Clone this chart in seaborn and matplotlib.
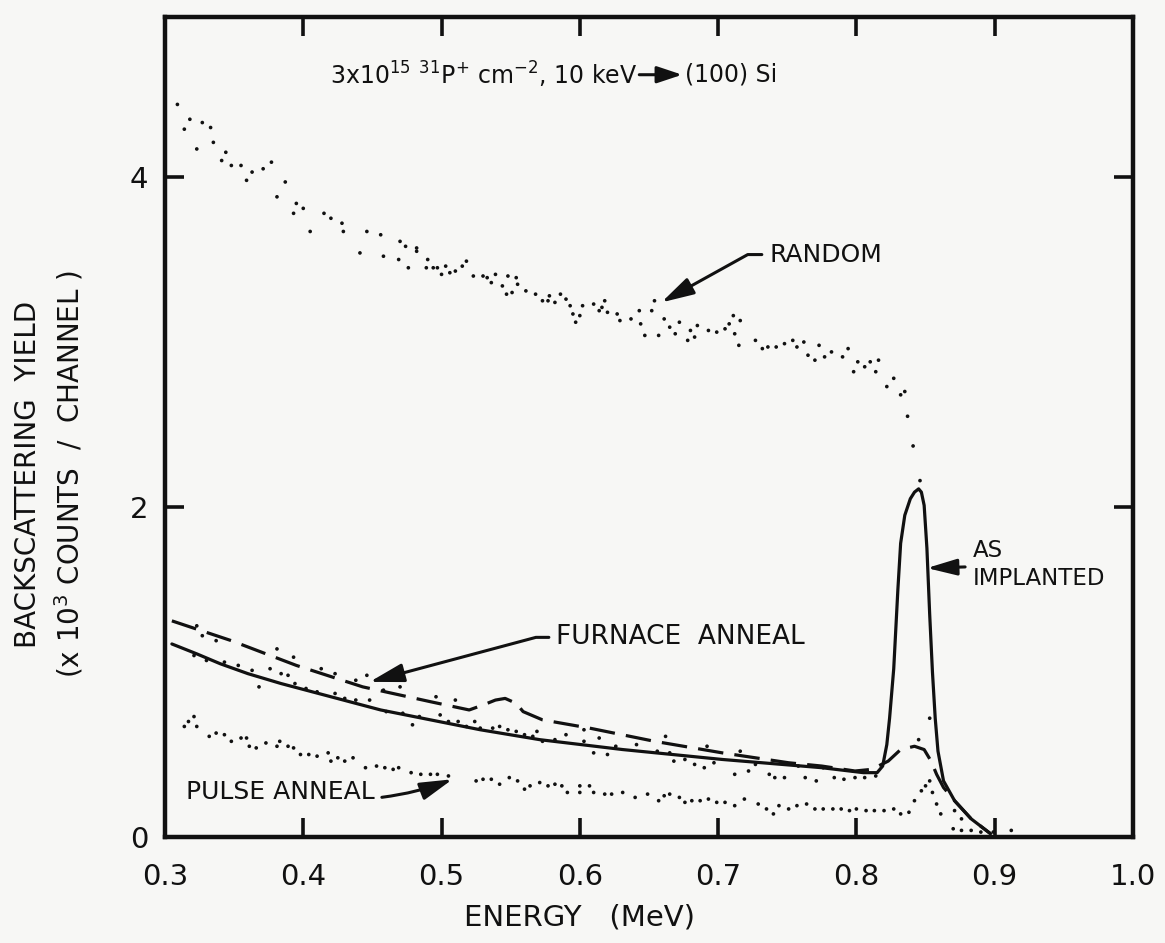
import matplotlib
matplotlib.use("Agg")
import matplotlib.pyplot as plt
import seaborn as sns
import numpy as np

# ---------------- data (energy in MeV, yield in 10^3 counts/channel) ----------------
random_E = [0.309, 0.314, 0.318, 0.323, 0.327, 0.333, 0.335, 0.341, 0.344, 0.348,
            0.355, 0.359, 0.363, 0.371, 0.377, 0.381, 0.387, 0.393, 0.395, 0.400,
            0.405, 0.415, 0.420, 0.428, 0.429, 0.441, 0.446, 0.456, 0.458, 0.469,
            0.470, 0.474, 0.476, 0.482, 0.482, 0.489, 0.490, 0.494, 0.497, 0.500,
            0.503, 0.506, 0.510, 0.515, 0.518, 0.523, 0.530, 0.533, 0.536, 0.539,
            0.544, 0.547, 0.548, 0.551, 0.554, 0.555, 0.561, 0.568, 0.573, 0.577,
            0.578, 0.582, 0.586, 0.590, 0.593, 0.595, 0.597, 0.600, 0.602, 0.610,
            0.614, 0.616, 0.618, 0.620, 0.627, 0.629, 0.637, 0.643, 0.644, 0.647,
            0.652, 0.654, 0.657, 0.661, 0.665, 0.669, 0.672, 0.678, 0.680, 0.683,
            0.685, 0.693, 0.699, 0.705, 0.708, 0.711, 0.712, 0.715, 0.716, 0.727,
            0.732, 0.736, 0.742, 0.748, 0.754, 0.757, 0.762, 0.765, 0.770, 0.773,
            0.777, 0.782, 0.790, 0.794, 0.798, 0.801, 0.806, 0.810, 0.814, 0.816,
            0.822, 0.827, 0.832, 0.835, 0.837, 0.841, 0.846]
random_Y = [4.44, 4.29, 4.35, 4.17, 4.33, 4.30, 4.21, 4.10, 4.15, 4.07,
            4.07, 3.98, 4.03, 4.05, 4.09, 3.88, 3.97, 3.78, 3.84, 3.81,
            3.67, 3.78, 3.75, 3.72, 3.67, 3.54, 3.67, 3.65, 3.52, 3.50,
            3.61, 3.58, 3.45, 3.57, 3.55, 3.45, 3.50, 3.45, 3.45, 3.41,
            3.46, 3.42, 3.43, 3.46, 3.49, 3.40, 3.40, 3.39, 3.36, 3.41,
            3.34, 3.29, 3.40, 3.30, 3.39, 3.35, 3.31, 3.29, 3.25, 3.25,
            3.28, 3.24, 3.29, 3.26, 3.22, 3.17, 3.12, 3.16, 3.22, 3.23,
            3.19, 3.21, 3.25, 3.18, 3.17, 3.13, 3.14, 3.19, 3.11, 3.04,
            3.19, 3.25, 3.04, 3.14, 3.09, 3.05, 3.12, 3.01, 3.07, 3.03,
            3.10, 3.07, 3.06, 3.08, 3.11, 3.16, 3.05, 2.98, 3.13, 3.01,
            2.96, 2.97, 2.97, 2.99, 3.01, 2.97, 3.00, 2.92, 2.89, 2.98,
            2.91, 2.94, 2.91, 2.96, 2.82, 2.88, 2.85, 2.88, 2.82, 2.89,
            2.73, 2.78, 2.68, 2.70, 2.55, 2.37, 2.16]

implanted_E = [0.305, 0.323, 0.340, 0.360, 0.384, 0.420, 0.456, 0.492, 0.528, 0.571,
               0.631, 0.703, 0.775, 0.805, 0.815, 0.819, 0.822, 0.824, 0.827, 0.830,
               0.832, 0.835, 0.839, 0.842, 0.845, 0.847, 0.849, 0.851, 0.853, 0.855,
               0.857, 0.859, 0.863, 0.871, 0.883, 0.897]
implanted_Y = [1.17, 1.11, 1.05, 0.99, 0.93, 0.85, 0.77, 0.71, 0.65, 0.59,
               0.53, 0.47, 0.42, 0.39, 0.39, 0.43, 0.56, 0.72, 1.02, 1.50,
               1.78, 1.95, 2.05, 2.09, 2.11, 2.09, 2.01, 1.75, 1.35, 1.00,
               0.72, 0.52, 0.34, 0.22, 0.11, 0.02]

furnace_E = [0.305, 0.348, 0.395, 0.443, 0.492, 0.520, 0.530, 0.539, 0.546, 0.554,
             0.559, 0.573, 0.607, 0.654, 0.703, 0.751, 0.775, 0.799, 0.811, 0.823,
             0.832, 0.842, 0.849, 0.854, 0.858, 0.863, 0.871, 0.883, 0.897]
furnace_Y = [1.31, 1.19, 1.04, 0.91, 0.82, 0.77, 0.80, 0.83, 0.84, 0.81,
             0.76, 0.71, 0.66, 0.58, 0.51, 0.45, 0.43, 0.40, 0.41, 0.46,
             0.53, 0.55, 0.53, 0.46, 0.38, 0.30, 0.22, 0.11, 0.02]

aligned_E = [0.323, 0.327, 0.337, 0.321, 0.330, 0.343, 0.353, 0.363, 0.368, 0.376,
             0.381, 0.384, 0.389, 0.393, 0.394, 0.402, 0.413, 0.410, 0.423, 0.423,
             0.430, 0.438, 0.438, 0.446, 0.448, 0.458, 0.460, 0.470, 0.472, 0.479,
             0.484, 0.496, 0.499, 0.505, 0.510, 0.512, 0.518, 0.524, 0.528, 0.537,
             0.542, 0.548, 0.554, 0.560, 0.566, 0.569, 0.573, 0.582, 0.590, 0.603,
             0.603, 0.610, 0.614, 0.620, 0.626, 0.641, 0.656, 0.662, 0.665, 0.668,
             0.676, 0.683, 0.690, 0.692, 0.697, 0.712, 0.716, 0.722, 0.727, 0.737,
             0.741, 0.748, 0.758, 0.763, 0.771, 0.776, 0.784, 0.791, 0.799, 0.806,
             0.814, 0.845, 0.853]
aligned_Y = [1.28, 1.22, 1.19, 1.10, 1.07, 1.06, 1.04, 1.01, 0.91, 1.02,
             1.14, 0.99, 0.98, 1.09, 0.93, 0.90, 1.02, 0.88, 0.99, 0.87,
             0.84, 0.95, 0.83, 0.98, 0.83, 0.89, 0.76, 0.91, 0.75, 0.68,
             0.73, 0.85, 0.74, 0.70, 0.83, 0.70, 0.67, 0.70, 0.66, 0.66,
             0.67, 0.65, 0.64, 0.62, 0.61, 0.64, 0.58, 0.59, 0.62, 0.65,
             0.58, 0.51, 0.60, 0.50, 0.55, 0.56, 0.52, 0.61, 0.51, 0.46,
             0.47, 0.44, 0.42, 0.55, 0.45, 0.38, 0.52, 0.40, 0.44, 0.38,
             0.36, 0.36, 0.43, 0.36, 0.34, 0.42, 0.36, 0.35, 0.36, 0.36,
             0.37, 0.59, 0.72]

pulse_E = [0.314, 0.317, 0.321, 0.323, 0.332, 0.337, 0.343, 0.348, 0.355, 0.359,
           0.361, 0.366, 0.373, 0.381, 0.383, 0.389, 0.393, 0.398, 0.404, 0.410,
           0.418, 0.420, 0.425, 0.430, 0.436, 0.445, 0.453, 0.459, 0.465, 0.469,
           0.478, 0.485, 0.492, 0.497, 0.505, 0.525, 0.530, 0.536, 0.542, 0.549,
           0.555, 0.560, 0.564, 0.571, 0.577, 0.582, 0.587, 0.591, 0.600, 0.600,
           0.607, 0.610, 0.618, 0.623, 0.631, 0.640, 0.649, 0.657, 0.661, 0.665,
           0.672, 0.676, 0.681, 0.687, 0.693, 0.699, 0.705, 0.712, 0.719, 0.729,
           0.735, 0.740, 0.744, 0.751, 0.757, 0.764, 0.770, 0.776, 0.783, 0.789,
           0.795, 0.800, 0.807, 0.813, 0.820, 0.827, 0.832, 0.838, 0.842, 0.847,
           0.850, 0.853, 0.855, 0.858, 0.861, 0.871, 0.876, 0.870, 0.876, 0.883,
           0.890, 0.899, 0.912]
pulse_Y = [0.67, 0.70, 0.73, 0.67, 0.61, 0.63, 0.62, 0.58, 0.60, 0.60,
           0.55, 0.54, 0.57, 0.55, 0.58, 0.55, 0.54, 0.50, 0.50, 0.49,
           0.51, 0.46, 0.48, 0.46, 0.48, 0.42, 0.43, 0.42, 0.41, 0.42,
           0.39, 0.38, 0.38, 0.38, 0.37, 0.34, 0.35, 0.35, 0.32, 0.36,
           0.34, 0.29, 0.31, 0.33, 0.31, 0.32, 0.31, 0.27, 0.31, 0.27,
           0.31, 0.27, 0.26, 0.26, 0.27, 0.24, 0.26, 0.22, 0.25, 0.26,
           0.24, 0.21, 0.22, 0.22, 0.23, 0.21, 0.21, 0.19, 0.23, 0.20,
           0.17, 0.14, 0.19, 0.17, 0.19, 0.20, 0.17, 0.17, 0.17, 0.17,
           0.16, 0.17, 0.16, 0.16, 0.16, 0.17, 0.14, 0.15, 0.22, 0.28,
           0.31, 0.34, 0.27, 0.20, 0.14, 0.16, 0.11, 0.05, 0.04, 0.04,
           0.03, 0.03, 0.04]

x_ticks = [0.3, 0.4, 0.5, 0.6, 0.7, 0.8, 0.9, 1.0]
x_ticklabels = ["0.3", "0.4", "0.5", "0.6", "0.7", "0.8", "0.9", "1.0"]
y_ticks = [0, 2, 4]
y_ticklabels = ["0", "2", "4"]

# ---------------- style ----------------
sns.set_style("ticks")
plt.rcParams["font.family"] = ["DejaVu Sans"]
plt.rcParams["mathtext.default"] = "regular"
BG = "#f7f7f5"
INK = "#111111"

fig = plt.figure(figsize=(11.65, 9.43), dpi=100, facecolor=BG)
ax = fig.add_axes([0.1416, 0.1124, 0.8309, 0.8696], facecolor=BG)

dot_kw = dict(ax=ax, s=7, color=INK, edgecolor="none", linewidth=0, legend=False)
sns.scatterplot(x=random_E, y=random_Y, **dot_kw)
sns.scatterplot(x=aligned_E, y=aligned_Y, **dot_kw)
sns.scatterplot(x=pulse_E, y=pulse_Y, **dot_kw)

sns.lineplot(x=implanted_E, y=implanted_Y, ax=ax, color=INK, lw=2.3,
             sort=False, estimator=None)
ax.lines[-1].set_solid_joinstyle("round")
sns.lineplot(x=furnace_E, y=furnace_Y, ax=ax, color=INK, lw=2.3,
             sort=False, estimator=None)
ax.lines[-1].set_dashes([8, 3.5])

ax.set_xlim(0.3, 1.0)
ax.set_ylim(0, 4.97)
ax.set_xticks(x_ticks)
ax.set_xticklabels(x_ticklabels)
ax.set_yticks(y_ticks)
ax.set_yticklabels(y_ticklabels)
ax.tick_params(axis="both", direction="in", length=14, width=2.6, color=INK,
               labelsize=21, labelcolor=INK, top=True, right=True)
ax.tick_params(axis="x", pad=19)
ax.tick_params(axis="y", pad=12)
for sp in ax.spines.values():
    sp.set_visible(True)
    sp.set_linewidth(3.2)
    sp.set_color(INK)
ax.set_xlabel("")
ax.set_ylabel("")

# ---------------- text ----------------
fig.text(0.497, 0.027, "ENERGY   (MeV)", ha="center", va="center",
         fontsize=21, color=INK)
fig.text(0.024, 0.497, "BACKSCATTERING  YIELD", rotation=90, ha="center",
         va="center", fontsize=20, color=INK)
fig.text(0.059, 0.497, r"(x 10$^{3}$ COUNTS  /  CHANNEL )", rotation=90,
         ha="center", va="center", fontsize=20, color=INK)

ax.text(0.419, 4.62, r"3x10$^{15}$ $^{31}$P$^{+}$ cm$^{-2}$, 10 keV",
        ha="left", va="center", fontsize=17, color=INK)
ax.annotate("", xy=(0.674, 4.62), xytext=(0.643, 4.62),
            arrowprops=dict(arrowstyle="-|>,head_length=0.9,head_width=0.3",
                            lw=2.2, color=INK, shrinkA=0, shrinkB=0),
            fontsize=17)
ax.text(0.676, 4.62, "(100) Si", ha="left", va="center", fontsize=17, color=INK)

arrow_kw = dict(arrowstyle="-|>,head_length=1.1,head_width=0.3", lw=2.2,
                color=INK, shrinkA=3, shrinkB=0)

ax.annotate("RANDOM", xy=(0.659, 3.24), xytext=(0.737, 3.53),
            ha="left", va="center", fontsize=18, color=INK,
            arrowprops=dict(connectionstyle="angle,angleA=0,angleB=29,rad=0",
                            **arrow_kw))
ax.annotate("FURNACE  ANNEAL", xy=(0.448, 0.94), xytext=(0.583, 1.21),
            ha="left", va="center", fontsize=19, color=INK,
            arrowprops=dict(connectionstyle="angle,angleA=0,angleB=15,rad=0",
                            **arrow_kw))
ax.annotate("AS\nIMPLANTED", xy=(0.851, 1.63), xytext=(0.884, 1.65),
            ha="left", va="center", fontsize=16.5, color=INK, linespacing=1.3,
            arrowprops=dict(connectionstyle="arc3,rad=0", **arrow_kw))
ax.annotate("PULSE ANNEAL", xy=(0.508, 0.35), xytext=(0.315, 0.27),
            ha="left", va="center", fontsize=18, color=INK,
            arrowprops=dict(connectionstyle="arc3,rad=0.15", **arrow_kw))

fig.savefig("out.png", dpi=100, facecolor=BG)
